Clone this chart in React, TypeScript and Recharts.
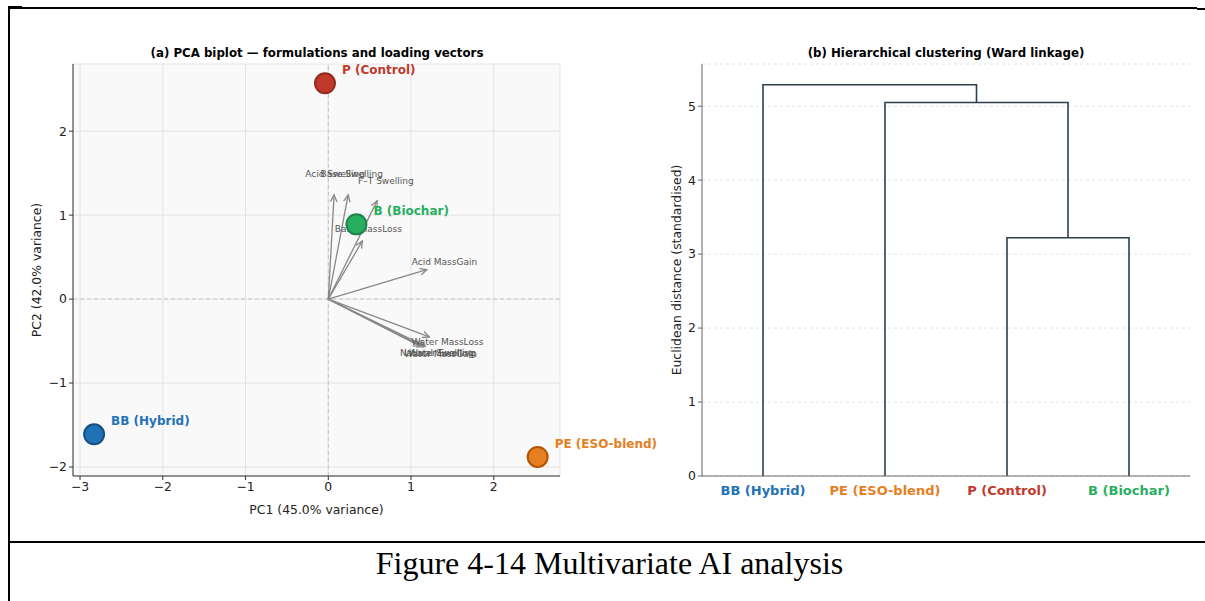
import React from 'react';
import {
  ScatterChart,
  Scatter,
  LineChart,
  Line,
  XAxis,
  YAxis,
  CartesianGrid,
  ReferenceLine,
  Label,
} from 'recharts';

// PCA scores of the four formulations
const sampleNames = ['P (Control)', 'B (Biochar)', 'BB (Hybrid)', 'PE (ESO-blend)'];
const pc1Scores = [-0.04, 0.34, -2.83, 2.53];
const pc2Scores = [2.57, 0.89, -1.61, -1.88];

// Loading vectors (scaled) of the measured properties
const loadingNames = [
  'Acid Swelling',
  'Base Swelling',
  'F–T Swelling',
  'Base MassLoss',
  'Acid MassGain',
  'Water MassLoss',
  'Natural Swelling',
  'Water MassGain',
  'Water Swelling',
];
const loadingPc1 = [0.07, 0.24, 0.59, 0.41, 1.19, 1.22, 1.11, 1.15, 1.17];
const loadingPc2 = [1.24, 1.24, 1.17, 0.69, 0.35, -0.45, -0.56, -0.57, -0.56];

const pcaXTicks = [-3, -2, -1, 0, 1, 2];
const pcaYTicks = [-2, -1, 0, 1, 2];

// Ward linkage: leaf order and merge heights
const leafNames = ['BB (Hybrid)', 'PE (ESO-blend)', 'P (Control)', 'B (Biochar)'];
const leafPositions = [5, 15, 25, 35];
const mergeHeights = [3.22, 5.05, 5.29];
const distanceTicks = [0, 1, 2, 3, 4, 5];

const sampleColors: Record<string, { fill: string; edge: string }> = {
  'P (Control)': { fill: '#c0392b', edge: '#922b21' },
  'B (Biochar)': { fill: '#27ae60', edge: '#1e8449' },
  'BB (Hybrid)': { fill: '#2171b5', edge: '#154f82' },
  'PE (ESO-blend)': { fill: '#e67e22', edge: '#b35400' },
};

const FONT = '"DejaVu Sans", Verdana, sans-serif';
const LABEL_SCALE = 1.18;

const samples = sampleNames.map((name, i) => ({ name, x: pc1Scores[i], y: pc2Scores[i] }));
const loadingLabels = loadingNames.map((name, i) => ({
  name,
  x: loadingPc1[i] * LABEL_SCALE,
  y: loadingPc2[i] * LABEL_SCALE,
}));

// Dendrogram links: [leftX, leftBase, rightX, rightBase, height]
const pbMid = (leafPositions[2] + leafPositions[3]) / 2;
const pepbMid = (leafPositions[1] + pbMid) / 2;
const links = [
  [leafPositions[2], 0, leafPositions[3], 0, mergeHeights[0]],
  [leafPositions[1], 0, pbMid, mergeHeights[0], mergeHeights[1]],
  [leafPositions[0], 0, pepbMid, mergeHeights[1], mergeHeights[2]],
].map(([lx, lb, rx, rb, h]) => [
  { x: lx, y: lb },
  { x: lx, y: h },
  { x: rx, y: h },
  { x: rx, y: rb },
]);

const minus = (v: number) => (v < 0 ? `\u2212${Math.abs(v)}` : `${v}`);

const ArrowShape = (props: any) => {
  const { x1, y1, x2, y2 } = props;
  const ang = Math.atan2(y2 - y1, x2 - x1);
  const len = 7;
  const spread = 0.45;
  const ax = x2 - len * Math.cos(ang - spread);
  const ay = y2 - len * Math.sin(ang - spread);
  const bx = x2 - len * Math.cos(ang + spread);
  const by = y2 - len * Math.sin(ang + spread);
  return (
    <g stroke="#888" strokeWidth={1.3} fill="none" strokeLinecap="round">
      <line x1={x1} y1={y1} x2={x2} y2={y2} />
      <polyline points={`${ax},${ay} ${x2},${y2} ${bx},${by}`} />
    </g>
  );
};

const LoadingLabel = (props: any) => (
  <text
    x={props.cx}
    y={props.cy - 2}
    textAnchor="middle"
    dominantBaseline="central"
    fontSize={9}
    fill="#555"
    fontFamily={FONT}
  >
    {props.payload.name}
  </text>
);

const SampleMarker = (props: any) => {
  const c = sampleColors[props.payload.name];
  return (
    <g>
      <circle cx={props.cx} cy={props.cy} r={10} fill={c.fill} stroke={c.edge} strokeWidth={2} />
      <text
        x={props.cx + 17}
        y={props.cy - 13}
        dominantBaseline="central"
        fontSize={12}
        fontWeight="bold"
        fill={c.fill}
        fontFamily={FONT}
      >
        {props.payload.name}
      </text>
    </g>
  );
};

const LeafTick = (props: any) => {
  const idx = leafPositions.indexOf(props.payload.value);
  const name = leafNames[idx];
  return (
    <text
      x={props.x}
      y={props.y}
      dy="0.71em"
      textAnchor="middle"
      fontSize={13}
      fontWeight="bold"
      fill={sampleColors[name].fill}
      fontFamily={FONT}
    >
      {name}
    </text>
  );
};

const tickStyle = { fontSize: 12.4, fill: '#222', fontFamily: FONT };
const axisLabelStyle = { fontSize: 12.4, fill: '#222', fontFamily: FONT };

const titleStyle: React.CSSProperties = {
  position: 'absolute',
  top: 45,
  height: 16,
  lineHeight: '16px',
  fontSize: 11.8,
  fontWeight: 'bold',
  textAlign: 'center',
  fontFamily: FONT,
  color: '#000',
};

export default function App() {
  return (
    <div
      style={{
        position: 'absolute',
        left: 0,
        top: 0,
        width: 1205,
        height: 601,
        background: '#fff',
        overflow: 'hidden',
      }}
    >
      {/* page frame */}
      <div style={{ position: 'absolute', left: 8, top: 7, width: 1189, height: 2, background: '#000' }} />
      <div style={{ position: 'absolute', left: 8, top: 6, width: 14, height: 3, background: '#000' }} />
      <div style={{ position: 'absolute', left: 1197, top: 8, width: 8, height: 2, background: '#000' }} />
      <div style={{ position: 'absolute', left: 8, top: 7, width: 2, height: 594, background: '#000' }} />
      <div style={{ position: 'absolute', left: 8, top: 541, width: 1197, height: 2, background: '#000' }} />

      <div style={{ ...titleStyle, left: 0, width: 634 }}>
        (a) PCA biplot — formulations and loading vectors
      </div>
      <div style={{ ...titleStyle, left: 687, width: 518 }}>(b) Hierarchical clustering (Ward linkage)</div>

      <div style={{ position: 'absolute', left: 600, top: 0 }}>
        <LineChart width={605} height={530} margin={{ top: 64, right: 15, bottom: 14, left: 72 }}>
          <CartesianGrid vertical={false} stroke="#e2e2e2" strokeDasharray="3 3" />
          <XAxis
            type="number"
            dataKey="x"
            domain={[0, 40]}
            ticks={leafPositions}
            interval={0}
            height={40}
            tickLine={false}
            tickMargin={4}
            stroke="#666"
            tick={LeafTick}
          />
          <YAxis
            type="number"
            domain={[0, 5.57]}
            ticks={distanceTicks}
            width={30}
            tickSize={4}
            stroke="#666"
            tick={tickStyle}
          >
            <Label
              value="Euclidean distance (standardised)"
              angle={-90}
              position="insideLeft"
              offset={5}
              style={{ ...axisLabelStyle, textAnchor: 'middle' }}
            />
          </YAxis>
          {links.map((link, i) => (
            <Line
              key={i}
              data={link}
              dataKey="y"
              type="linear"
              stroke="#2c3e50"
              strokeWidth={1.6}
              dot={false}
              activeDot={false}
              isAnimationActive={false}
            />
          ))}
        </LineChart>
      </div>

      {/* biplot drawn last so the PE label can run past its plot area */}
      <div style={{ position: 'absolute', left: 0, top: 0 }}>
        <ScatterChart width={700} height={530} margin={{ top: 64, right: 140, bottom: 14, left: 33 }}>
          <CartesianGrid fill="#f9f9f9" stroke="#e4e4e4" />
          <XAxis
            type="number"
            dataKey="x"
            domain={[-3.085, 2.8]}
            ticks={pcaXTicks}
            height={40}
            tickSize={4}
            stroke="#333"
            tick={tickStyle}
            tickFormatter={minus}
          >
            <Label value="PC1 (45.0% variance)" position="insideBottom" offset={2} style={axisLabelStyle} />
          </XAxis>
          <YAxis
            type="number"
            dataKey="y"
            domain={[-2.107, 2.8]}
            ticks={pcaYTicks}
            width={40}
            tickSize={4}
            stroke="#333"
            tick={tickStyle}
            tickFormatter={minus}
          >
            <Label
              value="PC2 (42.0% variance)"
              angle={-90}
              position="insideLeft"
              offset={4}
              style={{ ...axisLabelStyle, textAnchor: 'middle' }}
            />
          </YAxis>
          <ReferenceLine x={0} stroke="#c4c4c4" strokeDasharray="4 3" />
          <ReferenceLine y={0} stroke="#c4c4c4" strokeDasharray="4 3" />
          {loadingNames.map((name, i) => (
            <ReferenceLine
              key={name}
              segment={[
                { x: 0, y: 0 },
                { x: loadingPc1[i], y: loadingPc2[i] },
              ]}
              shape={ArrowShape}
            />
          ))}
          <Scatter data={loadingLabels} shape={LoadingLabel} isAnimationActive={false} />
          <Scatter data={samples} shape={SampleMarker} isAnimationActive={false} />
        </ScatterChart>
      </div>

      <div
        style={{
          position: 'absolute',
          left: 10,
          width: 1199,
          top: 543,
          height: 40,
          lineHeight: '40px',
          textAlign: 'center',
          fontSize: 32,
          fontFamily: '"Liberation Serif", "Times New Roman", serif',
          color: '#000',
        }}
      >
        Figure 4-14 Multivariate AI analysis
      </div>
    </div>
  );
}
